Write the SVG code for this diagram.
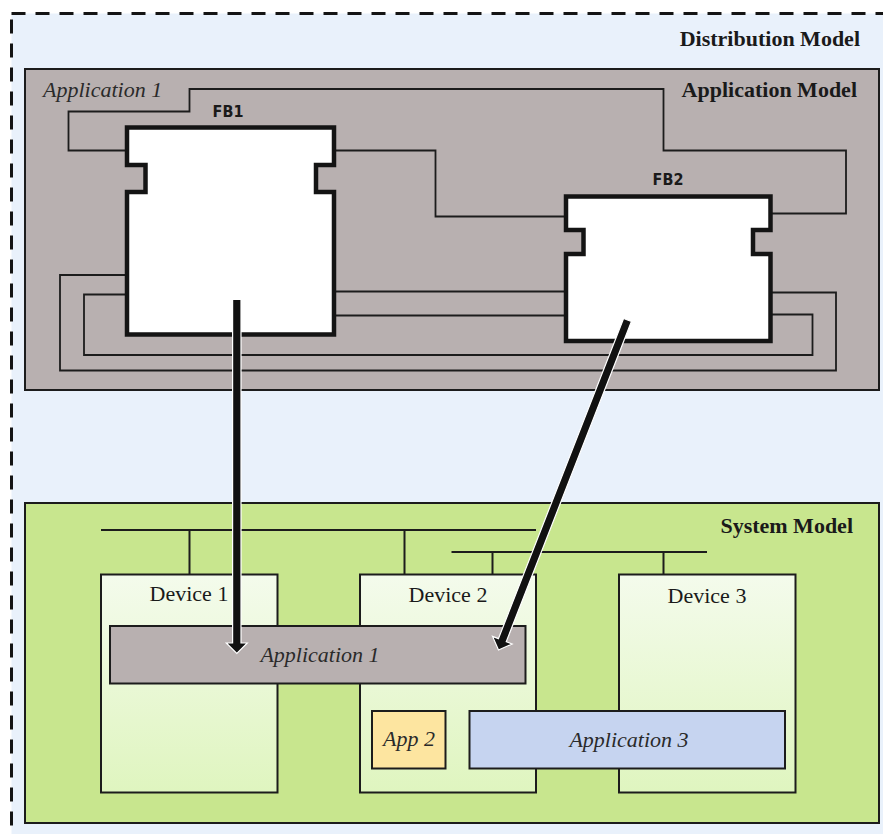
<svg xmlns="http://www.w3.org/2000/svg" width="883" height="834" viewBox="0 0 883 834">
  <defs>
    <linearGradient id="deviceFill" x1="0" y1="0" x2="0" y2="1">
      <stop offset="0" stop-color="#f4fbec"/>
      <stop offset="1" stop-color="#dff5bf"/>
    </linearGradient>
    <style>
      .frame { stroke: #1c1c1c; stroke-width: 2; }
      .wire { fill: none; stroke: #1c1c1c; stroke-width: 1.8; }
      .bus { fill: none; stroke: #1c1c1c; stroke-width: 2; }
      .fb { fill: #ffffff; stroke: #141414; stroke-width: 4.5; stroke-linejoin: miter; }
      .map { fill: #111111; stroke: #ffffff; stroke-width: 1.2; stroke-linejoin: miter; }
      .title { font-family: "Liberation Serif", "Times New Roman", serif; font-weight: bold; font-size: 22px; fill: #1a1a1a; }
      .label { font-family: "Liberation Serif", "Times New Roman", serif; font-size: 22px; fill: #1a1a1a; }
      .app { font-family: "Liberation Serif", "Times New Roman", serif; font-style: italic; font-size: 22px; fill: #2a2a2a; }
      .fbname { font-family: "DejaVu Sans Condensed", "DejaVu Sans", sans-serif; font-stretch: condensed; font-weight: bold; font-size: 16px; fill: #1a1a1a; }
    </style>
  </defs>

  <!-- Distribution model: dashed outer container -->
  <g id="distribution-model">
    <rect x="11.5" y="13.5" width="900" height="850" fill="#e9f1fb" stroke="#141414" stroke-width="3" stroke-dasharray="14 10"/>
    <text class="title" x="860" y="46" text-anchor="end">Distribution Model</text>
  </g>

  <!-- Application model -->
  <g id="application-model">
    <rect class="frame" x="25" y="69" width="854" height="321" fill="#b8b0b0"/>
    <text class="title" x="857" y="97" text-anchor="end">Application Model</text>
    <text class="app" x="43" y="97" fill="#333333">Application 1</text>
  </g>

  <!-- Function block wiring -->
  <g id="connectors">
    <polyline class="wire" points="127,150.5 68.5,150.5 68.5,111.5 189.5,111.5 189.5,89 663.5,89 663.5,150.5 846,150.5 846,213.5 770,213.5"/>
    <polyline class="wire" points="334,150.5 435.5,150.5 435.5,216.5 566,216.5"/>
    <polyline class="wire" points="127,275 60,275 60,370.5 836,370.5 836,292.5 770,292.5"/>
    <polyline class="wire" points="127,294.5 84,294.5 84,355 812.5,355 812.5,314.5 770,314.5"/>
    <line class="wire" x1="334" y1="291.5" x2="566" y2="291.5"/>
    <line class="wire" x1="334" y1="315.5" x2="566" y2="315.5"/>
  </g>

  <g id="fb1">
    <path class="fb" d="M127,127.5 H334 V165 H316 V192 H334 V334.5 H127 V192 H145.5 V165 H127 Z"/>
    <text class="fbname" x="228" y="117" text-anchor="middle">FB1</text>
  </g>

  <g id="fb2">
    <path class="fb" d="M566,196.5 H770.5 V230 H753 V254 H770.5 V341 H566 V254 H583.5 V230 H566 Z"/>
    <text class="fbname" x="668" y="185" text-anchor="middle">FB2</text>
  </g>

  <!-- System model -->
  <g id="system-model">
    <rect class="frame" x="25" y="503" width="854" height="320" fill="#c8e68e"/>
    <text class="title" x="853" y="533" text-anchor="end">System Model</text>
  </g>

  <!-- Communication buses -->
  <g id="buses">
    <line class="bus" x1="101" y1="530" x2="536" y2="530"/>
    <line class="bus" x1="189.5" y1="530" x2="189.5" y2="574"/>
    <line class="bus" x1="404.5" y1="530" x2="404.5" y2="574"/>
    <line class="bus" x1="451.5" y1="552" x2="707" y2="552"/>
    <line class="bus" x1="492.5" y1="552" x2="492.5" y2="574"/>
    <line class="bus" x1="663.5" y1="552" x2="663.5" y2="574"/>
  </g>

  <g id="device-1">
    <rect class="frame" x="101" y="574.5" width="176.5" height="218" fill="url(#deviceFill)"/>
    <text class="label" x="189" y="601" text-anchor="middle">Device 1</text>
  </g>
  <g id="device-2">
    <rect class="frame" x="360" y="574.5" width="176" height="218" fill="url(#deviceFill)"/>
    <text class="label" x="448" y="602" text-anchor="middle">Device 2</text>
  </g>
  <g id="device-3">
    <rect class="frame" x="619" y="574.5" width="176.5" height="218" fill="url(#deviceFill)"/>
    <text class="label" x="707" y="603" text-anchor="middle">Device 3</text>
  </g>

  <g id="application-1">
    <rect class="frame" x="110" y="626" width="415.5" height="57.5" fill="#b8b0b0"/>
    <text class="app" x="320" y="662" text-anchor="middle">Application 1</text>
  </g>
  <g id="app-2">
    <rect class="frame" x="372" y="711" width="73.5" height="57.5" fill="#fde5a0"/>
    <text class="app" x="409" y="746" text-anchor="middle">App 2</text>
  </g>
  <g id="application-3">
    <rect class="frame" x="469.5" y="711" width="315.5" height="57.5" fill="#c6d4f0"/>
    <text class="app" x="629" y="747" text-anchor="middle">Application 3</text>
  </g>

  <!-- Mapping of function blocks onto devices -->
  <g id="mappings">
    <polygon class="map" transform="translate(236.8,299.5) rotate(90)" points="0,-4.2 343.5,-4.2 343.5,-10.5 354,0 343.5,10.5 343.5,4.2 0,4.2"/>
    <polygon class="map" transform="translate(627.5,320) rotate(111.35)" points="0,-4.2 343.8,-4.2 343.8,-10.5 354.3,0 343.8,10.5 343.8,4.2 0,4.2"/>
  </g>
</svg>
